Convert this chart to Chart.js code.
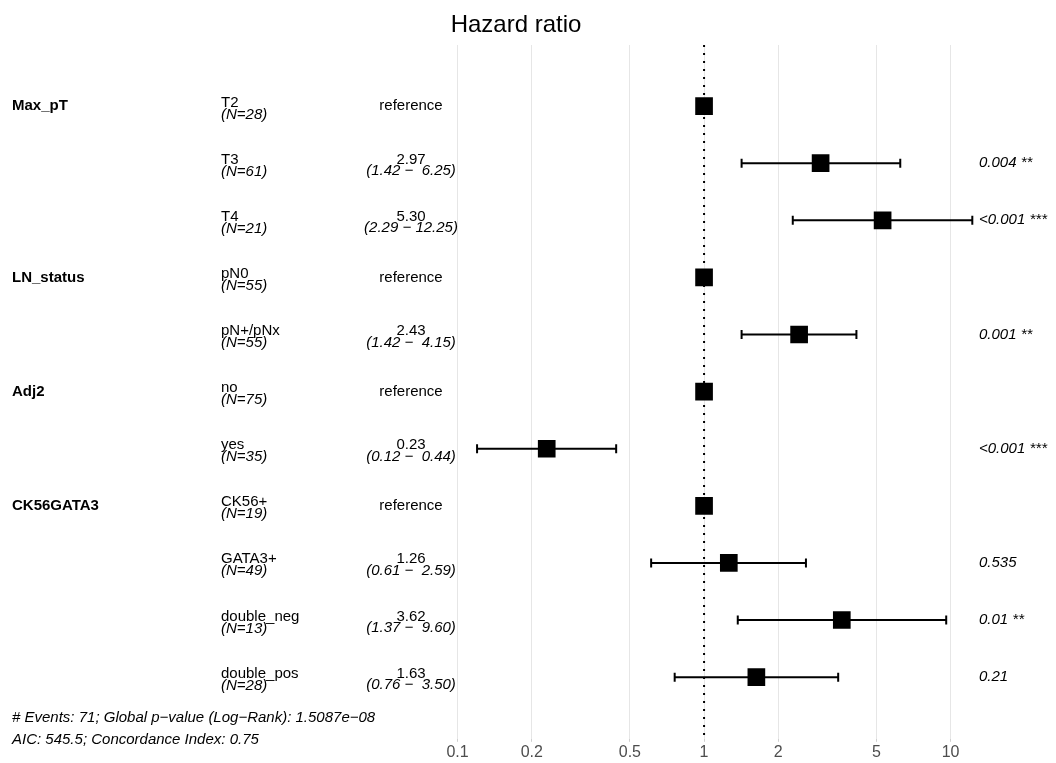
<!DOCTYPE html>
<html>
<head>
<meta charset="utf-8">
<script src="https://cdn.jsdelivr.net/npm/chart.js@4"></script>
<style>
  html, body { margin: 0; padding: 0; background: #fff; }
  #wrap { width: 1056px; height: 763px; position: relative; }
</style>
</head>
<body>
<div id="wrap"><canvas id="forest"></canvas></div>
<script>
// rows, top to bottom
const variables = ['Max_pT', '', '', 'LN_status', '', 'Adj2', '', 'CK56GATA3', '', '', ''];
const levels = ['T2', 'T3', 'T4', 'pN0', 'pN+/pNx', 'no', 'yes', 'CK56+', 'GATA3+', 'double_neg', 'double_pos'];
const counts = [28, 61, 21, 55, 55, 75, 35, 19, 49, 13, 28];
const hazard = [1, 2.97, 5.30, 1, 2.43, 1, 0.23, 1, 1.26, 3.62, 1.63];
const ciLow = [null, 1.42, 2.29, null, 1.42, null, 0.12, null, 0.61, 1.37, 0.76];
const ciHigh = [null, 6.25, 12.25, null, 4.15, null, 0.44, null, 2.59, 9.60, 3.50];
const pLabels = ['', '0.004 **', '<0.001 ***', '', '0.001 **', '', '<0.001 ***', '', '0.535', '0.01 **', '0.21'];
const xTicks = [0.1, 0.2, 0.5, 1, 2, 5, 10];
const footer = ['# Events: 71; Global p\u2212value (Log\u2212Rank): 1.5087e\u221208',
                'AIC: 545.5; Concordance Index: 0.75'];

const FONT = '"Liberation Sans", Arial, sans-serif';
const yMin = -1.07, yMax = 11.08;

// text columns + title + footer
const forestText = {
  id: 'forestText',
  afterDraw(chart) {
    const ctx = chart.ctx;
    const y = chart.scales.y;
    ctx.save();
    ctx.fillStyle = '#000';

    ctx.font = '24px ' + FONT;
    ctx.textAlign = 'center';
    ctx.textBaseline = 'alphabetic';
    ctx.fillText('Hazard ratio', 516, 32);

    levels.forEach((lv, i) => {
      const py = y.getPixelForValue(i);
      if (variables[i]) {
        ctx.font = 'bold 15px ' + FONT;
        ctx.textAlign = 'left';
        ctx.textBaseline = 'middle';
        ctx.fillText(variables[i], 12, py);
      }
      ctx.textAlign = 'left';
      ctx.textBaseline = 'alphabetic';
      ctx.font = '15px ' + FONT;
      ctx.fillText(lv, 221, py + 0.5);
      ctx.font = 'italic 15px ' + FONT;
      ctx.fillText('(N=' + counts[i] + ')', 221, py + 12.5);

      ctx.textAlign = 'center';
      if (ciLow[i] == null) {
        ctx.font = '15px ' + FONT;
        ctx.textBaseline = 'middle';
        ctx.fillText('reference', 411, py);
      } else {
        ctx.font = '15px ' + FONT;
        ctx.fillText(hazard[i].toFixed(2), 411, py + 0.5);
        ctx.font = 'italic 15px ' + FONT;
        const ci = '(' + ciLow[i].toFixed(2) + ' \u2212 ' + ciHigh[i].toFixed(2).padStart(5, ' ') + ')';
        ctx.fillText(ci, 411, py + 12);
      }

      if (pLabels[i]) {
        ctx.font = 'italic 15px ' + FONT;
        ctx.textAlign = 'left';
        ctx.textBaseline = 'middle';
        ctx.fillText(pLabels[i], 979, py);
      }
    });

    ctx.font = 'italic 15px ' + FONT;
    ctx.textAlign = 'left';
    ctx.textBaseline = 'middle';
    ctx.fillText(footer[0], 12, 718);
    ctx.fillText(footer[1], 12, 740);
    ctx.restore();
  }
};

const datasets = [];
datasets.push({
  data: hazard.map((h, i) => ({ x: h, y: i })),
  pointStyle: 'rect', pointRadius: 12.5, backgroundColor: '#000', borderColor: '#000', borderWidth: 0,
  order: 0
});
levels.forEach((_, i) => {
  if (ciLow[i] == null) return;
  datasets.push({
    data: [{ x: ciLow[i], y: i }, { x: ciHigh[i], y: i }],
    showLine: true, borderColor: '#000', borderWidth: 2,
    pointStyle: 'line', rotation: 90, pointRadius: 4.5, pointBorderWidth: 2, pointBorderColor: '#000',
    order: 1
  });
});
datasets.push({
  data: [{ x: 1, y: yMin }, { x: 1, y: yMax }],
  showLine: true, borderColor: '#000', borderWidth: 2, borderDash: [2, 6], pointRadius: 0,
  order: 2
});

new Chart(document.getElementById('forest'), {
  type: 'scatter',
  data: { datasets },
  options: {
    responsive: true, maintainAspectRatio: false, animation: false, events: [],
    layout: { autoPadding: false, padding: { top: 45, bottom: 0, left: 0, right: 0 } },
    plugins: { legend: { display: false }, tooltip: { enabled: false }, title: { display: false } },
    scales: {
      x: {
        type: 'logarithmic', min: 0.001393, max: 26.77,
        afterBuildTicks: s => { s.ticks = xTicks.map(v => ({ value: v })); },
        ticks: { callback: v => String(v), color: '#4d4d4d', font: { size: 16, family: FONT }, padding: 1, autoSkip: false, maxRotation: 0 },
        grid: { color: '#e6e6e6', lineWidth: 1, tickLength: 3, tickColor: '#d0d0d0' },
        border: { display: false }
      },
      y: { type: 'linear', reverse: true, min: yMin, max: yMax, display: false }
    }
  },
  plugins: [forestText]
});
</script>
</body>
</html>
